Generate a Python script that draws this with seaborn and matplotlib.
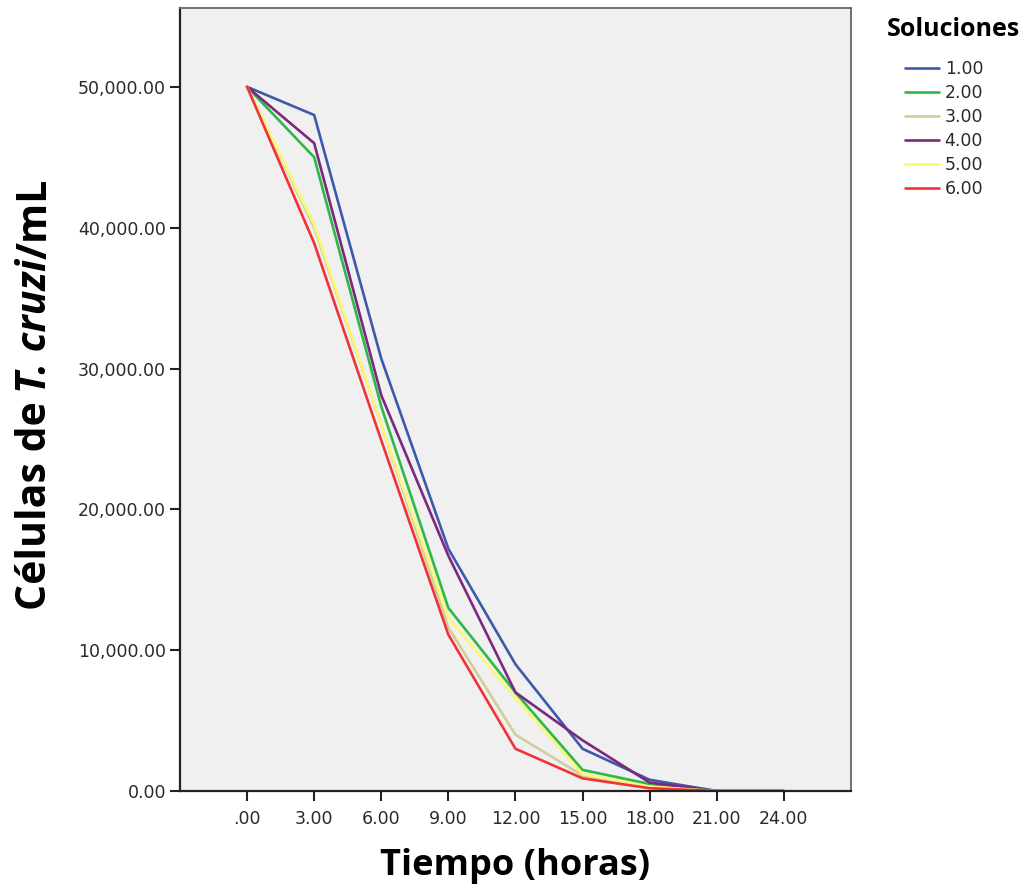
import numpy as np
import matplotlib
matplotlib.use("Agg")
import matplotlib.pyplot as plt
import matplotlib.ticker as mticker
import seaborn as sns
import pandas as pd

# hours and cell counts per solution
hours = [0, 3, 6, 9, 12, 15, 18, 21, 24]
sol_1 = [50000, 48000, 30700, 17200, 9000, 3000, 800, 0, 0]
sol_2 = [50000, 45000, 27300, 13000, 7000, 1500, 500, 0, 0]
sol_3 = [50000, 40000, 26000, 11600, 4000, 1100, 300, 0, 0]
sol_4 = [50000, 46000, 28100, 16700, 7000, 3600, 600, 0, 0]
sol_5 = [50000, 40200, 26000, 12300, 6600, 1200, 300, 0, 0]
sol_6 = [50000, 38900, 24900, 11100, 3000, 900, 200, 0, 0]
labels = ["1.00", "2.00", "3.00", "4.00", "5.00", "6.00"]
colors = ["#3E58AC", "#2EB848", "#D3CE97", "#7C287D", "#FBF873", "#EF3338"]

series = [sol_1, sol_2, sol_3, sol_4, sol_5, sol_6]
data = pd.DataFrame({
    "Tiempo": np.tile(hours, len(series)),
    "Celulas": np.concatenate(series),
    "Soluciones": np.repeat(labels, len(hours)),
})

sns.set_theme(style="ticks")
plt.rcParams["font.family"] = ["DejaVu Sans"]
plt.rcParams["text.color"] = "black"

W, H = 1035, 890
fig = plt.figure(figsize=(W / 100, H / 100), dpi=100)
ax = fig.add_axes([0.1739, 0.1112, 0.8222 - 0.1739, 0.991 - 0.1112])
ax.set_facecolor("#F0F0F0")

sns.lineplot(data=data, x="Tiempo", y="Celulas", hue="Soluciones",
             palette=colors, linewidth=1.9, ax=ax)

ax.set_xlim(-3, 27)
ax.set_ylim(0, 55600)
ax.set_xticks(hours)
ax.set_xticklabels([".00"] + [f"{h:.2f}" for h in hours[1:]])
ax.yaxis.set_major_locator(mticker.MultipleLocator(10000))
ax.yaxis.set_major_formatter(mticker.FuncFormatter(lambda v, p: f"{v:,.2f}"))
ax.tick_params(axis="both", direction="out", length=7, width=1.5,
               color="#222222", labelsize=12.5, labelcolor="#2a2a2a")
ax.tick_params(axis="x", pad=7)
ax.tick_params(axis="y", pad=3)
for s in ax.spines.values():
    s.set_color("#666666")
    s.set_linewidth(1.3)
ax.spines["left"].set_color("#222222")
ax.spines["bottom"].set_color("#222222")
ax.spines["left"].set_linewidth(1.6)
ax.spines["bottom"].set_linewidth(1.6)

ax.set_xlabel("Tiempo (horas)", fontsize=26, fontweight="bold",
              family="Open Sans", color="black", labelpad=14)
ax.set_ylabel("")

# y label built from pieces so that only "T. cruzi" is italic
renderer = fig.canvas.get_renderer()
fs = 29.5
gap = fs * 0.28
ypix = H - 610
pieces = [("Células de", "normal"), ("T. cruzi", "italic"), ("/mL", "normal")]
for i, (txt, style) in enumerate(pieces):
    t = fig.text(36 / W, ypix / H, txt, rotation=90, ha="center", va="bottom",
                 fontsize=fs, fontweight="bold", fontstyle=style,
                 family="Open Sans", color="black")
    ext = t.get_window_extent(renderer)
    ypix += ext.height + (gap if i == 0 else 0)

handles, hlabels = ax.get_legend_handles_labels()
ax.get_legend().remove()
fig.text(953 / W, 1 - 30 / H, "Soluciones", ha="center", va="center",
         fontsize=18, fontweight="bold", family="Open Sans", color="black")
leg = fig.legend(handles, hlabels, loc="upper center",
                 bbox_to_anchor=(944 / W, 1 - 60 / H), frameon=False,
                 fontsize=12.5, handlelength=2.0, handletextpad=0.3,
                 labelspacing=0.35, borderaxespad=0, borderpad=0)
for t in leg.get_texts():
    t.set_color("#2a2a2a")

fig.savefig("out.png", dpi=100)
